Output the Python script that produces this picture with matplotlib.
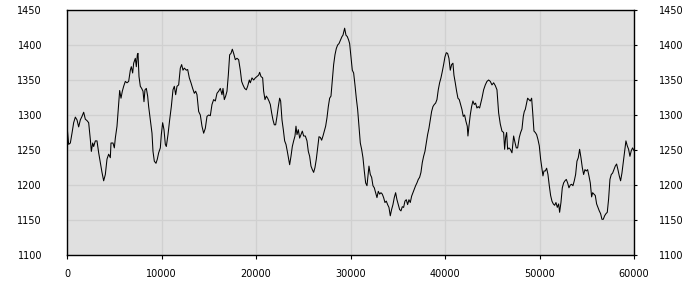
import matplotlib
matplotlib.use("Agg")
import matplotlib.pyplot as plt

x_vals = [
    0, 176, 353, 529, 705, 882, 1058, 1234, 1411, 1587, 1764, 1940, 2116, 2293, 2469, 2575, 2716, 2822,
    2998, 3174, 3351, 3527, 3703, 3880, 4056, 4232, 4409, 4585, 4656, 4867, 5008, 5114, 5291, 5467, 5573,
    5714, 5855, 5996, 6172, 6349, 6525, 6701, 6807, 6948, 7054, 7230, 7336, 7442, 7513, 7618, 7759, 7900,
    8042, 8147, 8253, 8394, 8535, 8641, 8818, 8994, 9100, 9241, 9417, 9558, 9699, 9876, 9981, 10122, 10264,
    10405, 10510, 10687, 10863, 11040, 11216, 11357, 11498, 11639, 11815, 11992, 12133, 12274, 12415, 12627,
    12768, 12944, 13120, 13297, 13473, 13614, 13755, 13932,
    14108, 14284, 14461, 14637, 14813, 14990, 15166, 15342, 15519, 15695, 15872, 16048, 16224, 16401, 16507,
    16648, 16789, 16930, 17071, 17212, 17353, 17494, 17635, 17811, 17988, 18164, 18340, 18481, 18622, 18799,
    18975, 19116, 19293, 19399, 19575, 19751, 19928, 20104, 20280, 20386, 20527, 20704, 20809, 20950, 21092,
    21233, 21374, 21515, 21656, 21797, 21938, 22079, 22220, 22361, 22503, 22608, 22750, 22891, 23032, 23173,
    23314, 23455, 23561, 23702, 23843, 23984, 24125, 24231, 24337, 24478, 24619, 24760, 24901, 25042, 25219,
    25395, 25536, 25677, 25818, 25959, 26100, 26241, 26383, 26524, 26665, 26806, 26947, 27088, 27229, 27370,
    27511, 27652, 27793, 27934, 28075, 28216, 28357, 28498, 28639, 28780,
    29098, 29203, 29380, 29521, 29662, 29803, 29909, 30050, 30191, 30332, 30473, 30614, 30755, 30896, 31037,
    31178, 31319, 31460, 31602, 31743, 31848, 31954, 32095, 32236, 32377, 32518, 32659, 32800, 32941, 33082,
    33223, 33364, 33505, 33646, 33787, 33928, 34069, 34210, 34351, 34492, 34633, 34775, 34916, 35057, 35198,
    35339, 35480, 35621, 35762, 35903, 36044, 36185, 36326, 36467, 36608, 36749, 36890, 37031, 37173, 37314,
    37455, 37596, 37737, 37878, 38019, 38160, 38301, 38442, 38583, 38724, 38865, 39006, 39147, 39288, 39429,
    39571, 39712, 39853, 39994, 40135, 40276, 40417, 40558, 40699, 40840, 40946, 41087, 41228, 41369, 41510,
    41651, 41792, 41933, 42074, 42215, 42356, 42427, 42532, 42673, 42814, 42955, 43096, 43237, 43378, 43520,
    43661,
    43911, 44088, 44264, 44440, 44617, 44793, 44970, 45146, 45322, 45499, 45675, 45851, 46028, 46204, 46310,
    46416, 46522, 46627, 46768, 46910, 47086, 47262, 47403, 47544, 47685, 47862, 48003, 48144, 48285, 48391,
    48497, 48638, 48743, 48885, 49026, 49167, 49273, 49414, 49555, 49696, 49837, 49978, 50119, 50260, 50366,
    50472, 50613, 50754, 50895, 51036, 51177, 51318, 51459, 51600, 51742, 51883, 52024, 52129, 52270, 52412,
    52553, 52694, 52835, 52976, 53117, 53258, 53399, 53540, 53681, 53822, 53963, 54104, 54245, 54387, 54528,
    54669, 54810, 54951, 55092, 55233, 55374, 55515, 55621, 55762, 55903, 56044, 56185, 56326, 56467, 56608,
    56749, 56890, 57031, 57172, 57313, 57454, 57595, 57736, 57877, 58018, 58159, 58300, 58441, 58582, 58723,
    58864, 59005, 59146, 59287, 59428, 59569, 59710, 59851, 60000,
]

y_vals = [
    1285, 1258, 1260, 1274, 1289, 1297, 1293, 1283, 1293, 1298, 1304, 1294, 1292, 1289, 1265, 1248, 1260, 1255,
    1263, 1263, 1246, 1232, 1218, 1206, 1215, 1237, 1244, 1239, 1260, 1260, 1253, 1267, 1284, 1317, 1335,
    1324, 1334, 1341, 1348, 1346, 1348, 1364, 1369, 1360, 1374, 1381, 1369, 1386, 1388, 1355, 1341, 1338,
    1334, 1319, 1336, 1338, 1327, 1312, 1293, 1274, 1248, 1234, 1231, 1237, 1246, 1253, 1272, 1289, 1279,
    1258, 1255, 1272, 1293, 1312, 1336, 1341, 1329, 1341, 1343, 1367, 1372, 1364, 1367, 1364,
    1365, 1353, 1346, 1338, 1331, 1334, 1329, 1305,
    1300, 1284, 1274, 1281, 1298, 1300, 1299, 1315, 1322, 1320, 1331, 1334, 1338, 1329, 1338,
    1322, 1327, 1334, 1357, 1386, 1388, 1394, 1388, 1379, 1381, 1379, 1364, 1348, 1343, 1338,
    1336, 1341, 1350, 1346, 1353, 1350, 1353, 1355, 1357, 1361, 1355, 1353, 1334, 1322, 1327,
    1324, 1320, 1315, 1303, 1293, 1286, 1286, 1298, 1312, 1324, 1320, 1293, 1279, 1263, 1258,
    1248, 1237, 1229, 1241, 1255, 1263, 1270, 1284, 1272, 1279, 1267, 1272, 1277, 1270, 1270,
    1263, 1248, 1241, 1227, 1222, 1218, 1225, 1237, 1253, 1269, 1268, 1264, 1270, 1277, 1284,
    1296, 1312, 1324, 1327, 1350, 1372, 1386, 1395, 1400, 1402,
    1412, 1414, 1424, 1414, 1412, 1407, 1402, 1383, 1364, 1360, 1343, 1324, 1308, 1284, 1260,
    1251, 1239, 1220, 1203, 1199, 1213, 1227, 1215, 1211, 1199, 1196, 1189, 1182, 1191, 1187,
    1189, 1187, 1182, 1175, 1177, 1172, 1168, 1156, 1165, 1172, 1182, 1189, 1179, 1172, 1165,
    1163, 1169, 1168, 1177, 1179, 1172, 1179, 1175, 1184, 1189, 1194, 1199, 1203, 1208, 1211,
    1218, 1232, 1241, 1248, 1260, 1272, 1281, 1293, 1305, 1312, 1315, 1317, 1322, 1336, 1346,
    1353, 1362, 1372, 1383, 1389, 1388, 1381, 1364, 1372, 1374, 1357, 1346, 1334, 1324, 1322,
    1315, 1308, 1298, 1300, 1291, 1284, 1270, 1284, 1300, 1312, 1320, 1315, 1317, 1310, 1312,
    1310,
    1324, 1336, 1343, 1348, 1350, 1348, 1343, 1346, 1342, 1336, 1303, 1287, 1277, 1275, 1251,
    1268, 1275, 1251, 1253, 1251, 1246, 1270, 1261, 1253, 1253, 1268, 1275, 1280, 1298, 1305,
    1308, 1317, 1324, 1322, 1320, 1324, 1305, 1277, 1275, 1272, 1265, 1256, 1237, 1223, 1213,
    1220, 1220, 1224, 1215, 1199, 1185, 1177, 1173, 1171, 1175, 1168, 1173, 1161, 1175, 1196,
    1203, 1206, 1208, 1203, 1196, 1200, 1201, 1199, 1206, 1215, 1234, 1239, 1251, 1239, 1225,
    1215, 1222, 1220, 1222, 1213, 1203, 1183, 1189, 1187, 1185, 1173, 1168, 1163, 1159, 1151,
    1151, 1156, 1159, 1161, 1180, 1208, 1215, 1217, 1222, 1227, 1230, 1222, 1213, 1206, 1217,
    1232, 1246, 1263, 1256, 1251, 1241, 1249, 1253, 1249,
]

x_ticks = [0, 10000, 20000, 30000, 40000, 50000, 60000]
y_ticks = [1100, 1150, 1200, 1250, 1300, 1350, 1400, 1450]

fig = plt.figure(figsize=(7, 3), dpi=100)
ax = fig.add_axes([67 / 700, 1 - 255 / 300, (634 - 67) / 700, (255 - 10) / 300])
ax.set_facecolor("#e0e0e0")
ax.plot(x_vals, y_vals, color="black", linewidth=0.75)
ax.set_xlim(0, 60000)
ax.set_ylim(1100, 1450)
ax.set_xticks(x_ticks)
ax.set_yticks(y_ticks)
ax.set_xticklabels([str(v) for v in x_ticks])
ax.set_yticklabels([str(v) for v in y_ticks])
ax.grid(True, color="#d0d0d0", linewidth=0.9)
ax.set_axisbelow(True)
for s in ax.spines.values():
    s.set_color("black")
    s.set_linewidth(1.0)
ax.tick_params(axis="x", direction="out", length=3, width=0.8, pad=7, labelsize=7, colors="black")
ax.tick_params(axis="y", which="both", left=False, right=True, labelleft=True, labelright=True,
               direction="out", length=2, width=0.8, pad=16, labelsize=7, colors="black")
fig.savefig("out.png", dpi=100)
